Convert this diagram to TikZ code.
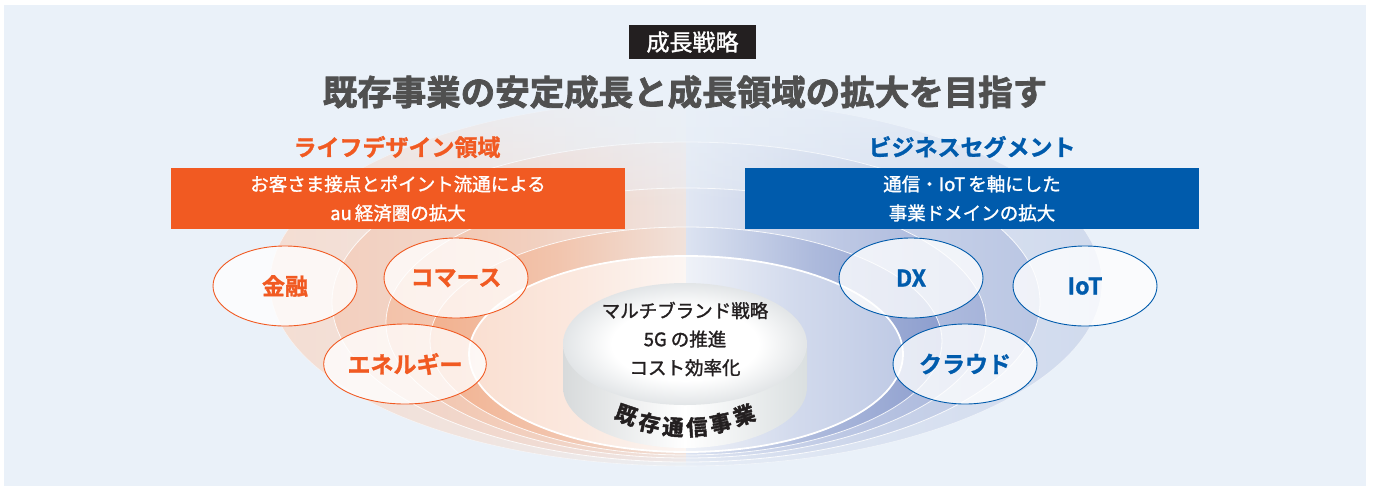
\documentclass[tikz,border=0pt]{standalone}
\usepackage{fontspec}
\newfontfamily\jp{Noto Sans CJK JP}
\newfontfamily\jpm{Noto Sans CJK JP}[FakeBold=1.4]
\newfontfamily\jpb{Noto Sans CJK JP Bold}[FakeBold=1.2]
\newfontfamily\jpx{Noto Sans CJK JP Bold}[FakeBold=2.2]
\usetikzlibrary{shapes.geometric,fadings}
\definecolor{bgc}{HTML}{EAF1F9}
\definecolor{orc}{HTML}{F15A22}
\definecolor{blc}{HTML}{005BAC}
\definecolor{ttl}{HTML}{505050}
\definecolor{ink}{HTML}{231F20}
\definecolor{L1a}{HTML}{F4DDD2}\definecolor{L1c}{HTML}{EAEEF3}
\definecolor{R1c}{HTML}{E7EDF6}\definecolor{R1a}{HTML}{D0DAED}
\definecolor{L2a}{HTML}{F3CFBE}\definecolor{L2c}{HTML}{EDE8E9}
\definecolor{R2c}{HTML}{E4EAF4}\definecolor{R2a}{HTML}{BAC6E3}
\definecolor{L3a}{HTML}{F3C2A9}\definecolor{L3c}{HTML}{EFE5E2}
\definecolor{R3c}{HTML}{E1E7F3}\definecolor{R3a}{HTML}{A6B4DA}
\definecolor{L4a}{HTML}{F2B18F}\definecolor{L4c}{HTML}{F1E2DB}
\definecolor{R4c}{HTML}{DCE3F1}\definecolor{R4a}{HTML}{8D9ECE}
\definecolor{L5a}{HTML}{FADFD1}\definecolor{L5c}{HTML}{FCF6F3}
\definecolor{R5c}{HTML}{EFF2F8}\definecolor{R5a}{HTML}{BFCAE5}
\definecolor{cylL}{HTML}{D7DADB}
\definecolor{cylR}{HTML}{DADFE0}
\definecolor{facegray}{HTML}{E2E5E7}
\pgfdeclareradialshading{topface}{\pgfpoint{0bp}{0bp}}{color(0bp)=(white); color(15bp)=(white); color(25bp)=(facegray); color(50bp)=(facegray)}
\tikzfading[name=topfade, top color=transparent!30, bottom color=transparent!100]
\newcommand\ringpair[8]{%
  \path[left color=#5, right color=#6, middle color=#5!60!#6] (#1,#2+#4) arc[start angle=90,end angle=270,x radius=#3,y radius=#4] -- cycle;
  \path[left color=#7, right color=#8, middle color=#8!60!#7] (#1,#2-#4) arc[start angle=270,end angle=450,x radius=#3,y radius=#4] -- cycle;}
\tikzset{
  lbl/.style={ellipse, line width=0.9pt, fill=white, fill opacity=0.78, text opacity=1,
    minimum width=144pt, minimum height=80pt, inner sep=0pt,
    font=\jpb\fontsize{23}{23}\selectfont},
  olbl/.style={lbl, draw=orc, text=orc},
  blbl/.style={lbl, draw=blc, text=blc},
  bandbox/.style={minimum width=454pt, minimum height=61pt, inner sep=0pt, align=center,
    text=white, font=\jpm\fontsize{18.5}{29}\selectfont},
  head/.style={font=\jpb\fontsize{23}{23}\selectfont},
  arcch/.style={font=\jpx\fontsize{21.5}{21.5}\selectfont, text=ink, inner sep=0pt}
}
\begin{document}
\begin{tikzpicture}[x=1pt,y=-1pt]
\useasboundingbox (0,0) rectangle (1373,488);
\fill[white] (0,0) rectangle (1373,488);
\fill[bgc] (4,5) rectangle (1366,486);
% rings
\ringpair{686}{283}{416}{183}{L1a}{L1c}{R1c}{R1a}
\ringpair{686}{302}{354}{160}{L2a}{L2c}{R2c}{R2a}
\ringpair{686}{323}{300}{135}{L3a}{L3c}{R3c}{R3a}
\ringpair{686}{341}{256}{114}{L4a}{L4c}{R4c}{R4a}
\ringpair{686}{354}{217}{98}{L5a}{L5c}{R5c}{R5a}
\draw[white, line width=0.6pt, opacity=0.5] (686,283) ellipse[x radius=416, y radius=183];
\foreach \cy/\rx/\ry in {302/354/160, 323/300/135, 341/256/114}
  \draw[white, line width=0.8pt, opacity=0.85] (686,\cy) ellipse[x radius=\rx, y radius=\ry];
\draw[white, line width=1.8pt] (686,354) ellipse[x radius=217, y radius=98];
% fade at top
\fill[bgc, path fading=topfade] (255,95) rectangle (1117,205);
% cylinder
\path[left color=cylL, right color=cylR, middle color=white]
  (563,344) -- (563,387) arc[start angle=180, end angle=0, x radius=122, y radius=61] -- (807,344) -- cycle;
\path[shading=topface] (685,344) ellipse[x radius=122, y radius=61];
\node[align=center, text=ink, font=\jpm\fontsize{18.5}{28.5}\selectfont] (core) at (685,339)
  {マルチブランド戦略\\5G\hspace{4pt}の推進\\コスト効率化};
\node[arcch, rotate=-19] (k1) at (626,415) {既};
\node[arcch, rotate=-12] (k2) at (649.5,423) {存};
\node[arcch, rotate=-4] (k3) at (673,427) {通};
\node[arcch, rotate=4] (k4) at (697,427) {信};
\node[arcch, rotate=12] (k5) at (720.5,423) {事};
\node[arcch, rotate=19] (k6) at (744,415) {業};
% small ellipses
\node[olbl] (kin) at (285,286) {金融};
\node[olbl] (com) at (456,278) {コマース};
\node[olbl] (ene) at (405,364) {エネルギー};
\node[blbl] (dx) at (911,278) {DX};
\node[blbl] (iot) at (1085,286) {IoT};
\node[blbl] (cld) at (965,364) {クラウド};
% headings
\node[fill=ink, text=white, minimum width=127pt, minimum height=34pt, inner sep=0pt,
  font=\jpm\fontsize{23}{23}\selectfont] (tag) at (692.5,42) {成長戦略};
\node[text=ttl, font=\jpx\fontsize{34.5}{34.5}\selectfont] (title) at (685,92)
  {既存事業の安定成長と成長領域の拡大を目指す};
\node[head, text=orc] (lhead) at (397,147) {ライフデザイン領域};
\node[head, text=blc] (rhead) at (972,147) {ビジネスセグメント};
\node[bandbox, fill=orc] (lbox) at (398,198.5) {お客さま接点とポイント流通による\\au\hspace{3pt}経済圏の拡大};
\node[bandbox, fill=blc] (rbox) at (972,198.5) {通信・IoT\hspace{3pt}を軸にした\\事業ドメインの拡大};
\end{tikzpicture}
\end{document}
